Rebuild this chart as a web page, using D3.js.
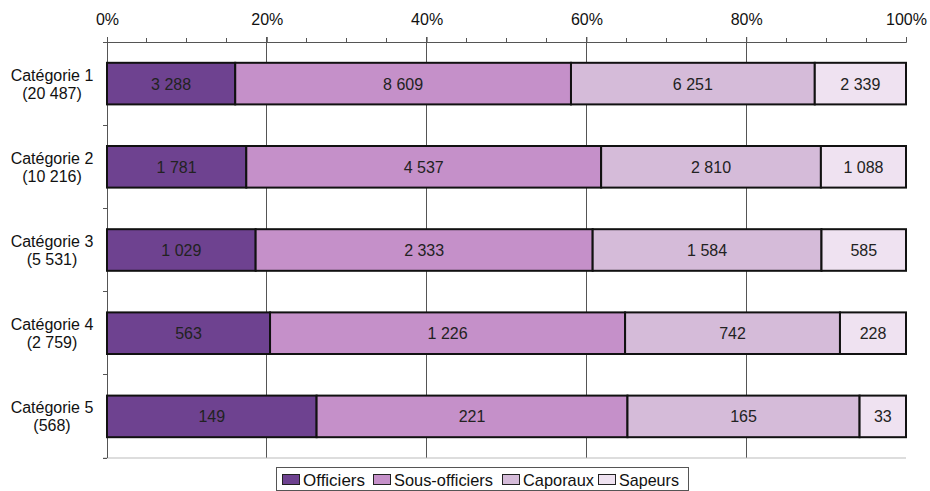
<!DOCTYPE html>
<html><head><meta charset="utf-8">
<script src="https://cdn.jsdelivr.net/npm/d3@7"></script>
<style>body{margin:0;background:#fff}svg{display:block;font-family:"Liberation Sans",Arial,sans-serif}</style>
</head><body><svg id="c" width="930" height="491"></svg>
<script>
const categories = ["Catégorie 1","Catégorie 2","Catégorie 3","Catégorie 4","Catégorie 5"];
const totals = ["(20 487)","(10 216)","(5 531)","(2 759)","(568)"];
const seriesNames = ["Officiers","Sous-officiers","Caporaux","Sapeurs"];
const officiers = [3288,1781,1029,563,149];
const sousOfficiers = [8609,4537,2333,1226,221];
const caporaux = [6251,2810,1584,742,165];
const sapeurs = [2339,1088,585,228,33];
const tickValues = [0,0.2,0.4,0.6,0.8,1];
const colors = ["#6e4290","#c590c9","#d5bbd9","#efe2f1"];

const svg = d3.select("#c");
const L=107,R=906,T=42,B=458;
const x = d3.scaleLinear().domain([0,1]).range([L,R]);
const y = d3.scaleBand().domain(categories).range([T,B]).paddingInner(0.5).paddingOuter(0.25);
const fmt = v => d3.format(",")(v).replace(/,/g," ");

// gridlines
svg.append("g").selectAll("line").data(tickValues.slice(1,5)).join("line")
 .attr("x1",d=>x(d)).attr("x2",d=>x(d)).attr("y1",T-5).attr("y2",B)
 .attr("stroke","#555").attr("stroke-width",1).attr("shape-rendering","crispEdges");

// top axis
const ax = svg.append("g").attr("transform",`translate(0,${T})`)
 .call(d3.axisTop(x).tickValues(tickValues).tickFormat(d3.format(".0%")).tickSize(5).tickPadding(12));
ax.select(".domain").attr("stroke","#555");
ax.selectAll(".tick line").attr("stroke","#555");
ax.selectAll("text").attr("font-size",16).attr("fill","#111");
// minor ticks
svg.append("g").selectAll("line").data(d3.range(0.05,1,0.05).filter((d,i)=>(i+1)%4!==0)).join("line")
 .attr("x1",d=>x(d)).attr("x2",d=>x(d)).attr("y1",T-4).attr("y2",T+1)
 .attr("stroke","#555").attr("shape-rendering","crispEdges");
// bottom line
svg.append("line").attr("x1",L-4).attr("x2",R).attr("y1",B).attr("y2",B).attr("stroke","#bbb");
// left axis
svg.append("line").attr("x1",L).attr("x2",L).attr("y1",T).attr("y2",B).attr("stroke","#555").attr("shape-rendering","crispEdges");
const bounds = d3.range(categories.length+1).map(i=>T+i*y.step());
svg.append("g").selectAll("line").data(bounds).join("line")
 .attr("x1",L-4).attr("x2",L).attr("y1",d=>d).attr("y2",d=>d).attr("stroke","#555").attr("shape-rendering","crispEdges");

// stacks
const rows = categories.map((c,i)=>({cat:c, vals:[officiers[i],sousOfficiers[i],caporaux[i],sapeurs[i]]}));
rows.forEach(r=>{
  const tot = d3.sum(r.vals); let acc=0;
  r.segs = r.vals.map((v,k)=>{const s={k,v,x0:acc/tot,x1:(acc+v)/tot}; acc+=v; return s;});
});
const g = svg.append("g");
rows.forEach(r=>{
  const gg = g.append("g");
  gg.selectAll("rect").data(r.segs).join("rect")
   .attr("x",d=>x(d.x0)).attr("width",d=>x(d.x1)-x(d.x0))
   .attr("y",y(r.cat)).attr("height",y.bandwidth())
   .attr("fill",d=>colors[d.k]).attr("stroke","#111").attr("stroke-width",2);
  gg.selectAll("text").data(r.segs).join("text")
   .attr("x",d=>(x(d.x0)+x(d.x1))/2).attr("y",y(r.cat)+y.bandwidth()/2+6)
   .attr("text-anchor","middle").attr("font-size",16).attr("fill","#222")
   .text(d=>fmt(d.v));
});

// category labels
categories.forEach((c,i)=>{
  const cy = y(c)+y.bandwidth()/2;
  const t = svg.append("text").attr("text-anchor","middle").attr("font-size",16).attr("fill","#111");
  t.append("tspan").attr("x",52).attr("y",cy-3).text(c);
  t.append("tspan").attr("x",52).attr("y",cy+15).text(totals[i]);
});

// legend
const lg = svg.append("g");
lg.append("rect").attr("x",276.5).attr("y",467.5).attr("width",412).attr("height",23).attr("fill","#fff").attr("stroke","#555");
const lx = [282,373,502,598];
const lw = [62,99,71,60];
seriesNames.forEach((n,i)=>{
  lg.append("rect").attr("x",lx[i]+0.5).attr("y",474.5).attr("width",17).attr("height",10).attr("fill",colors[i]).attr("stroke","#222");
  lg.append("text").attr("x",lx[i]+21).attr("y",486).attr("font-size",17).attr("fill","#111")
    .attr("textLength",lw[i]).attr("lengthAdjust","spacingAndGlyphs").text(n);
});
</script></body></html>
